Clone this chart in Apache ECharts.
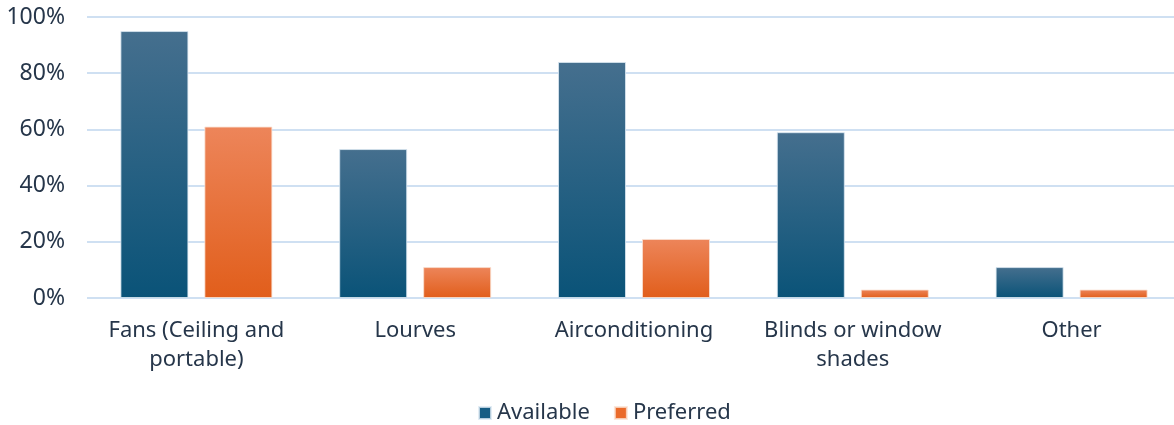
<!DOCTYPE html>
<html>
<head>
<meta charset="utf-8">
<script src="https://cdn.jsdelivr.net/npm/echarts@6/dist/echarts.min.js"></script>
<style>
  html, body { margin: 0; padding: 0; background: #fff; }
  #chart { width: 1174px; height: 425px; }
</style>
</head>
<body>
<div id="chart"></div>
<script>
const categories = ['Fans (Ceiling and\nportable)', 'Lourves', 'Airconditioning', 'Blinds or window\nshades', 'Other'];
const available = [95, 53, 84, 59, 11];
const preferred = [61, 11, 21, 3, 3];

let chartDom = document.getElementById('chart');
let myChart = echarts.init(chartDom);
let option;

const textColor = '#26364a';
const fontFamily = '"Noto Sans", "Open Sans", sans-serif';

function grad(top, bottom) {
  return new echarts.graphic.LinearGradient(0, 0, 0, 1, [
    { offset: 0, color: top },
    { offset: 1, color: bottom }
  ]);
}

option = {
  animation: false,
  grid: { left: 87, width: 1094, top: 17, bottom: 127, outerBoundsMode: 'none' },
  legend: {
    top: 397,
    left: 473,
    itemWidth: 12,
    itemHeight: 12,
    itemGap: 24,
    icon: 'rect',
    textStyle: { color: textColor, fontSize: 22, fontFamily: fontFamily, padding: [0, 0, 0, 1] },
    data: [
      { name: 'Available', itemStyle: { color: '#175d84' } },
      { name: 'Preferred', itemStyle: { color: '#ea6a2a' } }
    ]
  },
  xAxis: {
    type: 'category',
    data: categories,
    axisLine: { show: false },
    axisTick: { show: false },
    axisLabel: {
      color: textColor,
      fontSize: 22,
      fontFamily: fontFamily,
      lineHeight: 29,
      margin: 18,
      interval: 0
    }
  },
  yAxis: {
    type: 'value',
    min: 0,
    max: 100,
    interval: 20,
    axisLine: { show: false },
    axisTick: { show: false },
    splitLine: { lineStyle: { color: '#cfe0f2', width: 2 } },
    axisLabel: {
      color: textColor,
      fontSize: 23,
      fontFamily: fontFamily,
      margin: 22,
      formatter: '{value}%'
    }
  },
  series: [
    {
      name: 'Available',
      type: 'bar',
      data: available,
      barWidth: 68,
      barGap: '23.5%',
      itemStyle: {
        color: grad('#456f8e', '#0a5378'),
        borderColor: 'rgba(220,232,242,0.8)',
        borderWidth: 1
      }
    },
    {
      name: 'Preferred',
      type: 'bar',
      data: preferred,
      barWidth: 68,
      itemStyle: {
        color: grad('#ed855a', '#e15e1b'),
        borderColor: 'rgba(250,225,210,0.8)',
        borderWidth: 1
      }
    }
  ]
};

option && myChart.setOption(option);
</script>
</body>
</html>
